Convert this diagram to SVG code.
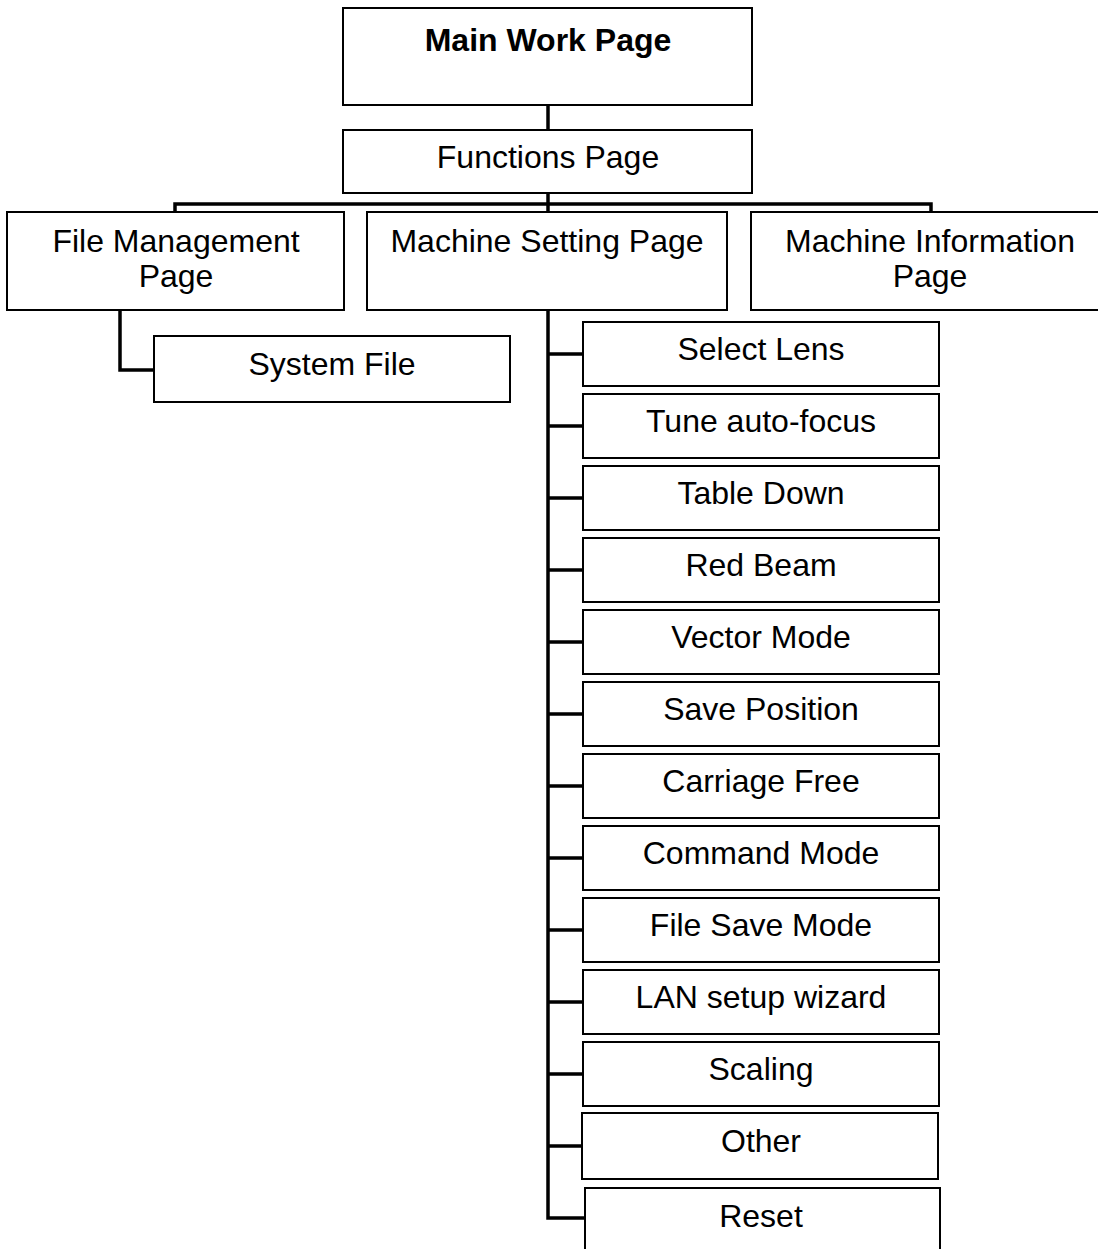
<svg xmlns="http://www.w3.org/2000/svg" width="1098" height="1249" viewBox="0 0 1098 1249">
<style>
.box{fill:#fff;stroke:#000;stroke-width:2}
.t{font-family:"Liberation Sans",Arial,sans-serif;font-size:32px;fill:#000;text-anchor:middle}
.b{font-weight:bold}
.c{fill:none;stroke:#000;stroke-width:3.5;stroke-linecap:butt}
</style>
<rect width="1098" height="1249" fill="#fff"/>
<g id="connectors">
<path class="c" d="M548 105V130"/>
<path class="c" d="M548 193V204"/>
<path class="c" d="M175 212V204H931V212"/>
<path class="c" d="M548 204V212"/>
<path class="c" d="M120 310V370H154"/>
<path class="c" d="M548 310V1218H585"/>
<path class="c" d="M548 354H583M548 426H583M548 498H583M548 570H583M548 642H583M548 714H583M548 786H583M548 858H583M548 930H583M548 1002H583M548 1074H583M548 1146H582"/>
</g>
<g id="main"><rect class="box" x="343" y="8" width="409" height="97"/><text class="t b" x="548" y="51">Main Work Page</text></g>
<g id="functions"><rect class="box" x="343" y="130" width="409" height="63"/><text class="t" x="548" y="168">Functions Page</text></g>
<g id="filemgmt"><rect class="box" x="7" y="212" width="337" height="98"/><text class="t" x="176" y="252">File Management</text><text class="t" x="176" y="287">Page</text></g>
<g id="machsetting"><rect class="box" x="367" y="212" width="360" height="98"/><text class="t" x="547" y="252">Machine Setting Page</text></g>
<g id="machinfo"><rect class="box" x="751" y="212" width="360" height="98"/><text class="t" x="930" y="252">Machine Information</text><text class="t" x="930" y="287">Page</text></g>
<g id="systemfile"><rect class="box" x="154" y="336" width="356" height="66"/><text class="t" x="332" y="375">System File</text></g>
<g id="selectlens"><rect class="box" x="583" y="322" width="356" height="64"/><text class="t" x="761" y="360">Select Lens</text></g>
<g id="tune"><rect class="box" x="583" y="394" width="356" height="64"/><text class="t" x="761" y="432">Tune auto-focus</text></g>
<g id="tabledown"><rect class="box" x="583" y="466" width="356" height="64"/><text class="t" x="761" y="504">Table Down</text></g>
<g id="redbeam"><rect class="box" x="583" y="538" width="356" height="64"/><text class="t" x="761" y="576">Red Beam</text></g>
<g id="vector"><rect class="box" x="583" y="610" width="356" height="64"/><text class="t" x="761" y="648">Vector Mode</text></g>
<g id="savepos"><rect class="box" x="583" y="682" width="356" height="64"/><text class="t" x="761" y="720">Save Position</text></g>
<g id="carriage"><rect class="box" x="583" y="754" width="356" height="64"/><text class="t" x="761" y="792">Carriage Free</text></g>
<g id="command"><rect class="box" x="583" y="826" width="356" height="64"/><text class="t" x="761" y="864">Command Mode</text></g>
<g id="filesave"><rect class="box" x="583" y="898" width="356" height="64"/><text class="t" x="761" y="936">File Save Mode</text></g>
<g id="lan"><rect class="box" x="583" y="970" width="356" height="64"/><text class="t" x="761" y="1008">LAN setup wizard</text></g>
<g id="scaling"><rect class="box" x="583" y="1042" width="356" height="64"/><text class="t" x="761" y="1080">Scaling</text></g>
<g id="other"><rect class="box" x="582" y="1113" width="356" height="66"/><text class="t" x="761" y="1152">Other</text></g>
<g id="reset"><rect class="box" x="585" y="1188" width="355" height="80"/><text class="t" x="761" y="1227">Reset</text></g>
</svg>
